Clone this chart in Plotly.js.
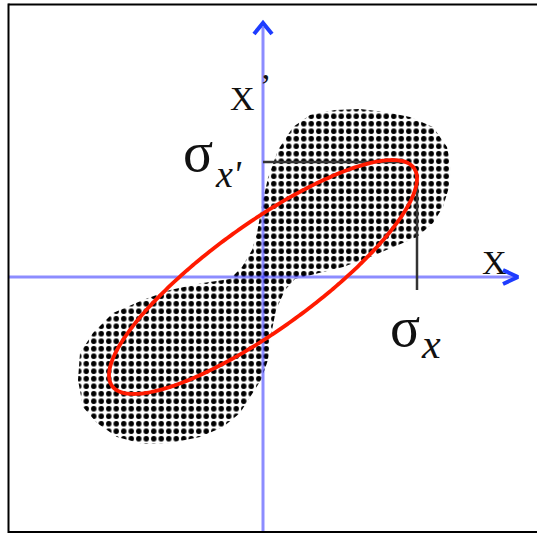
<!DOCTYPE html>
<html>
<head>
<meta charset="utf-8">
<script src="https://cdn.plot.ly/plotly-3.0.1.min.js"></script>
<style>html,body{margin:0;padding:0;background:#fff;overflow:hidden;}#chart{width:537px;height:534px;}</style>
</head>
<body>
<div id="chart"></div>
<script>
// Particle cloud outline (phase space x, x')
var cloudX = [30,47,72,97,122,147,170,184,188,186,180,170,154,130,107,80,57,32,22,13,8,5,-2,-13,-23,-40,-63,-93,-120,-146,-166,-180,-185,-183,-170,-150,-120,-93,-60,-33,-21,-11,-6,0,5,15,30];
var cloudY = [150,162,167,168,165,160,150,130,110,90,70,54,40,30,20,10,4,-2,-13,-33,-58,-83,-103,-120,-136,-150,-160,-166,-167,-160,-146,-130,-103,-76,-56,-36,-23,-13,-6,-2,10,27,44,77,99,127,150];

// rms beam ellipse parameters
var sigmaX = 154;       // sigma_x
var sigmaXp = 117;      // sigma_x'
var corr = 0.84;        // x-x' correlation

// Axis extents
var xAxisX = [-254, 253];
var yAxisY = [-255, 250];

// sigma guide lines
var guideHX = [0, 142], guideHY = [115, 115];
var guideVX = [154, 154], guideVY = [97, -13];

// ellipse from Twiss-like parameters
var ex = [], ey = [];
var phi = Math.acos(corr);
for (var i = 0; i <= 240; i++) {
  var t = 2 * Math.PI * i / 240;
  ex.push(sigmaX * Math.cos(t));
  ey.push(sigmaXp * Math.cos(t - phi));
}

var axisCol = 'rgba(0,0,255,0.45)';
var headCol = '#1e3cff';

var traces = [
  {x: cloudX, y: cloudY, mode: 'lines', fill: 'toself', line: {width: 0, color: 'rgba(0,0,0,0)'},
   fillcolor: 'rgba(0,0,0,0)',
   fillpattern: {shape: '.', size: 7.5, solidity: 0.42, fgcolor: '#000', fgopacity: 1, bgcolor: 'rgba(0,0,0,0)'},
   hoverinfo: 'skip'},
  {x: xAxisX, y: [0, 0], mode: 'lines', line: {color: axisCol, width: 3}, hoverinfo: 'skip'},
  {x: [0, 0], y: yAxisY, mode: 'lines', line: {color: axisCol, width: 3}, hoverinfo: 'skip'},
  {x: [-9, 0, 9], y: [243, 254, 243], mode: 'lines', line: {color: headCol, width: 4}, hoverinfo: 'skip'},
  {x: [240, 255, 240], y: [7, 0, -7], mode: 'lines', line: {color: headCol, width: 4}, hoverinfo: 'skip'},
  {x: guideHX, y: guideHY, mode: 'lines', line: {color: '#333', width: 2.5}, hoverinfo: 'skip'},
  {x: guideVX, y: guideVY, mode: 'lines', line: {color: '#333', width: 2.5}, hoverinfo: 'skip'},
  {x: ex, y: ey, mode: 'lines', line: {color: '#ff1a00', width: 3.8, shape: 'spline'}, hoverinfo: 'skip'}
];

var serif = 'Liberation Serif, Times New Roman, serif';
function ann(text, x, y, size, italic) {
  return {text: italic ? '<i>' + text + '</i>' : text, x: x, y: y, xref: 'x', yref: 'y',
          showarrow: false, xanchor: 'center', yanchor: 'middle',
          font: {family: serif, size: size, color: '#111'}};
}

var layout = {
  width: 537, height: 534,
  margin: {l: 0, r: 0, t: 0, b: 0},
  paper_bgcolor: '#fff', plot_bgcolor: '#fff',
  showlegend: false,
  xaxis: {range: [-263, 274], visible: false, fixedrange: true},
  yaxis: {range: [-257, 277], visible: false, fixedrange: true},
  shapes: [
    {type: 'line', xref: 'x', yref: 'y', x0: -254.5, x1: 500, y0: 272.5, y1: 272.5, line: {color: '#000', width: 2}},
    {type: 'line', xref: 'x', yref: 'y', x0: -254.5, x1: 500, y0: -255, y1: -255, line: {color: '#000', width: 2}},
    {type: 'line', xref: 'x', yref: 'y', x0: -254.5, x1: -254.5, y0: 273.5, y1: -256, line: {color: '#000', width: 2}}
  ],
  annotations: [
    ann('X', -21, 179, 34, false),
    ann('\u2019', 2, 192, 34, false),
    ann('X', 231, 15, 34, false),
    ann('\u03c3', 142, -50, 56, false),
    ann('x', 168, -67, 42, true),
    ann('\u03c3', -65, 125, 56, false),
    ann("x'", -35, 103, 38, true)
  ]
};

Plotly.newPlot('chart', traces, layout, {staticPlot: true, displayModeBar: false});
</script>
</body>
</html>
